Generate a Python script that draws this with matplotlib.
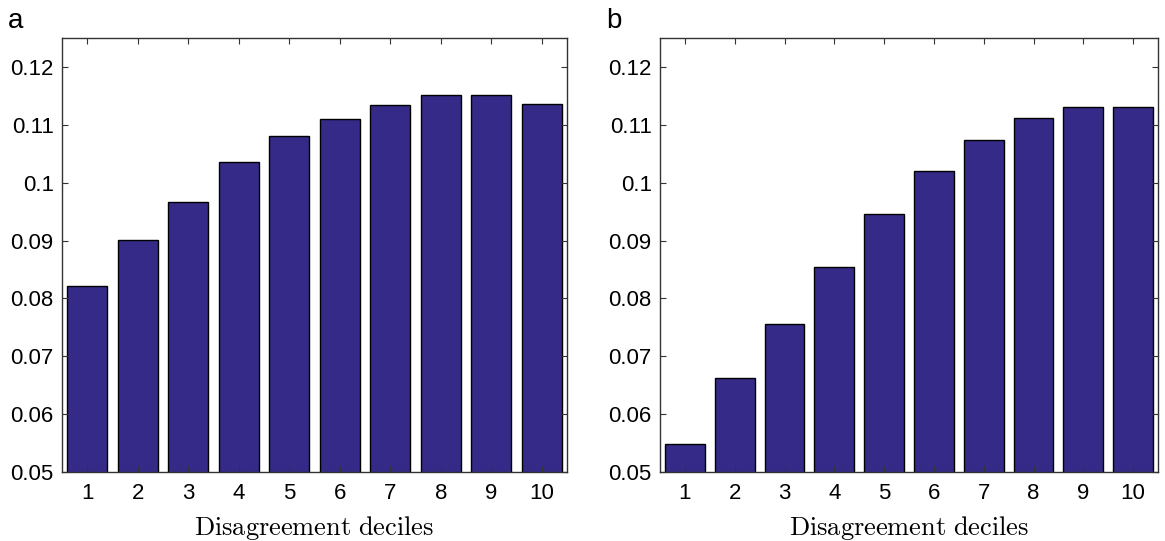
import numpy as np
import matplotlib.pyplot as plt

plt.rcParams['font.family'] = ['Liberation Sans', 'DejaVu Sans']
plt.rcParams['mathtext.fontset'] = 'cm'

deciles = np.arange(1, 11)
tick_labels = [str(d) for d in deciles]
panel_a = [0.0821, 0.0901, 0.0967, 0.1035, 0.1080, 0.1110, 0.1134, 0.1151, 0.1152, 0.1136]
panel_b = [0.0549, 0.0662, 0.0755, 0.0854, 0.0946, 0.1020, 0.1074, 0.1112, 0.1131, 0.1131]

bar_color = '#352a87'
W, H = 1165, 541

fig = plt.figure(figsize=(W / 100, H / 100), dpi=100)

axes_px = [(62, 567), (660, 1158)]
top_px, bottom_px = 38, 472

for (x0, x1), vals, letter in zip(axes_px, [panel_a, panel_b], ['a', 'b']):
    ax = fig.add_axes([x0 / W, 1 - bottom_px / H, (x1 - x0) / W, (bottom_px - top_px) / H])
    ax.bar(deciles, vals, width=0.8, color=bar_color, edgecolor='black', linewidth=1.0)
    ax.set_xlim(0.5, 10.5)
    ax.set_ylim(0.05, 0.125)
    ax.set_xticks(deciles)
    ax.set_xticklabels(tick_labels)
    ax.set_yticks([0.05, 0.06, 0.07, 0.08, 0.09, 0.10, 0.11, 0.12])
    ax.set_yticklabels(['0.05', '0.06', '0.07', '0.08', '0.09', '0.1', '0.11', '0.12'])
    ax.tick_params(direction='in', top=True, right=True, length=4, width=0.8,
                   color='#333333', labelsize=16, pad=6)
    ax.tick_params(axis='x', pad=8)
    for s in ax.spines.values():
        s.set_color('#333333')
        s.set_linewidth(1.0)
    ax.set_xlabel(r'$\mathrm{Disagreement\ deciles}$', fontsize=19, labelpad=7)
    fig.text((x0 - 54) / W, 1 - 21 / H, letter, fontsize=20, va='center', ha='left')

fig.savefig('out.png', dpi=100)
